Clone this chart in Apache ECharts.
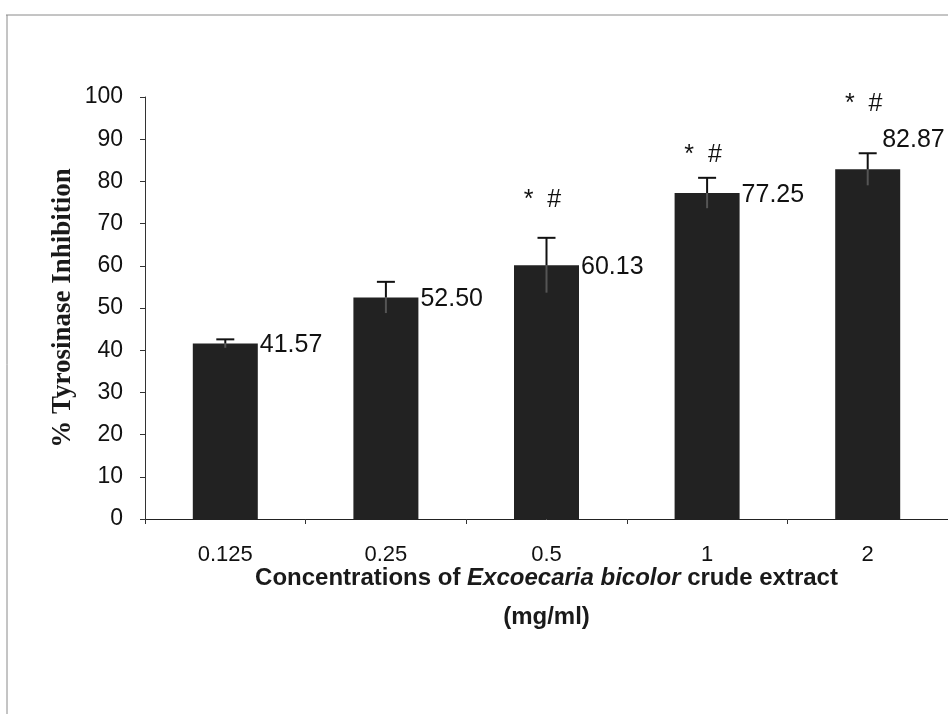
<!DOCTYPE html>
<html>
<head>
<meta charset="utf-8">
<script src="https://cdn.jsdelivr.net/npm/echarts@6/dist/echarts.min.js"></script>
<style>
html,body{margin:0;padding:0;background:#fff;}
#chart{width:948px;height:714px;}
</style>
</head>
<body>
<div id="chart"></div>
<script>
const categories = ['0.125', '0.25', '0.5', '1', '2'];
const values = [41.57, 52.50, 60.13, 77.25, 82.87];
const errors = [1.0, 3.7, 6.5, 3.6, 3.8];
const annotations = ['', '', '* #', '* #', '* #'];
const annotationY = [null, null, 75.5, 86.3, 98.3];
const yTicks = [0, 10, 20, 30, 40, 50, 60, 70, 80, 90, 100];

const chart = echarts.init(document.getElementById('chart'));

const barData = values.map((v, i) => {
  const item = { value: v };
  if (i === values.length - 1) {
    item.label = { position: ['100%', 0], offset: [-18, -29] };
  }
  return item;
});

const option = {
  backgroundColor: '#ffffff',
  animation: false,
  graphic: [
    { type: 'line', shape: { x1: 6, y1: 15, x2: 948, y2: 15 }, style: { stroke: '#8a8a8a', lineWidth: 1 } },
    { type: 'line', shape: { x1: 7, y1: 15, x2: 7, y2: 714 }, style: { stroke: '#8a8a8a', lineWidth: 1 } }
  ],
  grid: { left: 145, top: 97, width: 805, height: 422, containLabel: false },
  xAxis: {
    type: 'category',
    data: categories,
    axisLine: { show: true, lineStyle: { color: '#222', width: 1 } },
    axisTick: { show: true, alignWithLabel: false, length: 5, lineStyle: { color: '#333' } },
    axisLabel: { fontFamily: '"Liberation Sans", Arial, sans-serif', fontSize: 22, color: '#111', margin: 25 },
    name: 'Concentrations of {i|Excoecaria bicolor} crude extract\n(mg/ml)',
    nameLocation: 'middle',
    nameGap: 40,
    nameMoveOverlap: false,
    nameTextStyle: {
      fontFamily: '"Liberation Sans", Arial, sans-serif',
      fontWeight: 'bold', fontSize: 24, color: '#1a1a1a', lineHeight: 39,
      rich: {
        i: { fontFamily: '"Liberation Sans", Arial, sans-serif', fontStyle: 'italic', fontWeight: 'bold', fontSize: 24, color: '#1a1a1a', lineHeight: 39 }
      }
    }
  },
  yAxis: {
    type: 'value',
    min: yTicks[0],
    max: yTicks[yTicks.length - 1],
    interval: 10,
    splitLine: { show: false },
    axisLine: { show: true, lineStyle: { color: '#333', width: 1 } },
    axisTick: { show: true, length: 5, lineStyle: { color: '#333' } },
    axisLabel: { fontFamily: '"Liberation Sans", Arial, sans-serif', fontSize: 23, color: '#111', margin: 22 },
    name: '% Tyrosinase Inhibition',
    nameLocation: 'middle',
    nameGap: 68,
    nameMoveOverlap: false,
    nameRotate: 90,
    nameTextStyle: { fontFamily: '"Liberation Serif", "Times New Roman", serif', fontWeight: 'bold', fontSize: 27, color: '#1a1a1a' }
  },
  series: [
    {
      type: 'bar',
      data: barData,
      barWidth: 65,
      itemStyle: { color: '#222222' },
      label: {
        show: true,
        position: ['100%', 0],
        align: 'left',
        verticalAlign: 'middle',
        offset: [2, 2],
        formatter: p => p.value.toFixed(2),
        fontFamily: '"Liberation Sans", Arial, sans-serif',
        fontSize: 25,
        color: '#111'
      },
      z: 2
    },
    {
      type: 'custom',
      data: values.map((v, i) => [i, v, errors[i]]),
      z: 3,
      renderItem: function (params, api) {
        const idx = api.value(0);
        const v = api.value(1);
        const e = api.value(2);
        const top = api.coord([idx, v + e]);
        const mid = api.coord([idx, v]);
        const bot = api.coord([idx, v - e]);
        const cap = 9;
        return {
          type: 'group',
          children: [
            { type: 'line', shape: { x1: top[0], y1: top[1], x2: mid[0], y2: mid[1] }, style: { stroke: '#111', lineWidth: 2 } },
            { type: 'line', shape: { x1: mid[0], y1: mid[1], x2: bot[0], y2: bot[1] }, style: { stroke: '#555', lineWidth: 2 } },
            { type: 'line', shape: { x1: top[0] - cap, y1: top[1], x2: top[0] + cap, y2: top[1] }, style: { stroke: '#111', lineWidth: 2 } }
          ]
        };
      }
    },
    {
      type: 'custom',
      data: annotationY.map((y, i) => [i, y == null ? 0 : y, annotations[i]]),
      z: 4,
      renderItem: function (params, api) {
        const i = params.dataIndex;
        if (!annotations[i]) return null;
        const p = api.coord([api.value(0), annotationY[i]]);
        return {
          type: 'text',
          x: p[0] - 4, y: p[1],
          style: {
            text: annotations[i].replace(' ', '  '),
            fill: '#111',
            font: '25px "Liberation Sans", Arial, sans-serif',
            align: 'center',
            verticalAlign: 'middle'
          }
        };
      }
    }
  ]
};

chart.setOption(option);
</script>
</body>
</html>
